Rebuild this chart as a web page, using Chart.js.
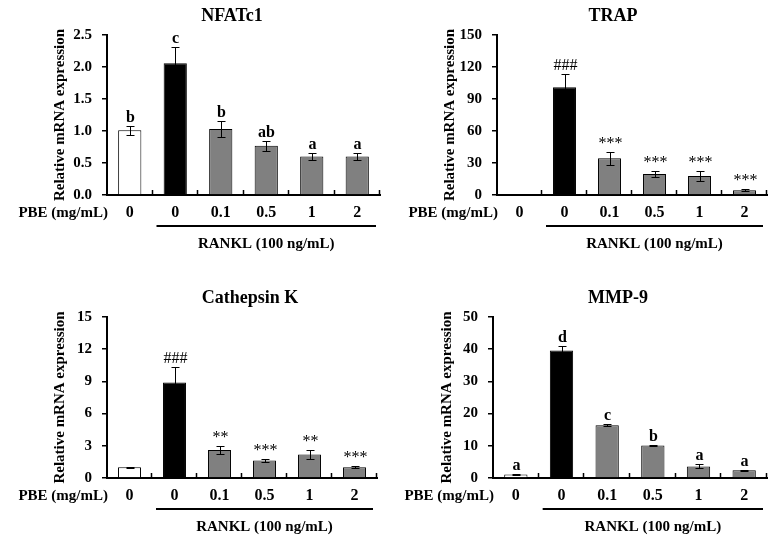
<!DOCTYPE html>
<html>
<head>
<meta charset="utf-8">
<script src="https://cdn.jsdelivr.net/npm/chart.js@4"></script>
<style>
  body{margin:0;background:#fff;}
  #wrap{position:relative;width:776px;height:543px;background:#fff;}
  canvas{position:absolute;}
</style>
</head>
<body>
<div id="wrap">
  <canvas id="c1" width="388" height="271" style="left:0;top:0"></canvas>
  <canvas id="c2" width="388" height="271" style="left:388px;top:0"></canvas>
  <canvas id="c3" width="388" height="272" style="left:0;top:271px"></canvas>
  <canvas id="c4" width="388" height="272" style="left:388px;top:271px"></canvas>
</div>
<script>
// --- dados ---
const doses = ['0','0','0.1','0.5','1','2'];
const barColors = ['#ffffff','#000000','#808080','#808080','#808080','#808080'];

const nfatc1Mean = [1.01, 2.06, 1.03, 0.77, 0.60, 0.60];
const nfatc1Err  = [0.07, 0.26, 0.12, 0.08, 0.06, 0.06];
const nfatc1Marks = ['b','c','b','ab','a','a'];

const trapMean = [0.9, 101, 34.4, 19.7, 17.8, 4.4];
const trapErr  = [0.2, 12, 6.3, 3.2, 4.4, 0.9];
const trapMarks = ['','###','***','***','***','***'];

const ctskMean = [1.0, 8.9, 2.6, 1.64, 2.2, 0.99];
const ctskErr  = [0.05, 1.48, 0.37, 0.15, 0.40, 0.10];
const ctskMarks = ['','###','**','***','**','***'];

const mmp9Mean = [1.1, 39.6, 16.4, 10.1, 3.6, 2.4];
const mmp9Err  = [0.1, 1.5, 0.3, 0.1, 0.6, 0.1];
const mmp9Marks = ['a','d','c','b','a','a'];

const serif = "'Liberation Serif', 'Times New Roman', serif";
Chart.defaults.font.family = serif;
Chart.defaults.color = '#000';

// desenha barras de erro, letras, eixo x e textos extras
const extras = {
  id:'extras',
  afterDatasetsDraw(chart, args, p){
    const ctx = chart.ctx, x = chart.scales.x, y = chart.scales.y;
    ctx.save();
    ctx.strokeStyle = '#000'; ctx.lineWidth = 1;
    p.mean.forEach((v,i)=>{
      const cx = Math.round(x.getPixelForValue(i)) + 0.5;
      const hi = Math.round(y.getPixelForValue(v + p.err[i])) + 0.5;
      const lo = Math.round(y.getPixelForValue(Math.max(0, v - p.err[i]))) + 0.5;
      ctx.beginPath();
      ctx.moveTo(cx, hi); ctx.lineTo(cx, lo);
      ctx.moveTo(cx-4, hi); ctx.lineTo(cx+4, hi);
      ctx.moveTo(cx-4, lo); ctx.lineTo(cx+4, lo);
      ctx.stroke();
      const m = p.marks[i];
      if(m){
        ctx.fillStyle = '#000';
        ctx.textAlign = 'center'; ctx.textBaseline = 'alphabetic';
        ctx.font = (/^[a-z]+$/.test(m) ? 'bold ' : '') + '16px ' + serif;
        ctx.fillText(m, cx, hi - 5);
      }
    });
    ctx.restore();
  },
  afterDraw(chart, args, p){
    const ctx = chart.ctx, x = chart.scales.x, a = chart.chartArea;
    const n = doses.length, w = (a.right - a.left) / n;
    ctx.save();
    ctx.strokeStyle = '#000'; ctx.fillStyle = '#000';
    // marcas do eixo x (para dentro)
    ctx.lineWidth = 1.5;
    ctx.beginPath();
    for(let i=1;i<=n;i++){
      const bx = Math.round(a.left + i*w) - 0.5;
      ctx.moveTo(bx, a.bottom); ctx.lineTo(bx, a.bottom - 5);
    }
    ctx.stroke();
    // rótulos das doses
    ctx.font = 'bold 16px ' + serif;
    ctx.textAlign = 'center'; ctx.textBaseline = 'middle';
    doses.forEach((d,i)=>ctx.fillText(d, x.getPixelForValue(i), a.bottom + 18));
    ctx.textAlign = 'right';
    ctx.font = 'bold 15px ' + serif;
    ctx.fillText('PBE (mg/mL)', a.left + 1, a.bottom + 18);
    // linha RANKL
    const x1 = a.left + w + 4, x2 = a.right - 4;
    ctx.lineWidth = 2;
    ctx.beginPath(); ctx.moveTo(x1, a.bottom + 31); ctx.lineTo(x2, a.bottom + 31); ctx.stroke();
    ctx.textAlign = 'center';
    ctx.fillText('RANKL (100 ng/mL)', (x1 + x2) / 2, a.bottom + 49);
    // título
    ctx.font = 'bold 18px ' + serif;
    ctx.fillText(p.title, p.lay.titleX, p.lay.titleY);
    // título do eixo y
    ctx.font = 'bold 15px ' + serif;
    ctx.translate(p.lay.yTitleX, (a.top + a.bottom) / 2);
    ctx.rotate(-Math.PI/2);
    ctx.fillText('Relative mRNA expression', 0, 0);
    ctx.restore();
  }
};

function makePanel(id, title, mean, err, marks, yMax, yStep, dec, lay){
  const el = document.getElementById(id);
  return new Chart(el.getContext('2d'), {
    type:'bar',
    data:{
      labels: doses.map((d,i)=>d + '_' + i),
      datasets:[{data:mean, backgroundColor:barColors, borderColor:'#000', borderWidth:1,
        categoryPercentage:1, barPercentage:0.51}]
    },
    options:{
      responsive:false, animation:false,
      layout:{padding:{left:0, top:lay.top, right:el.width - lay.right, bottom:0}},
      plugins:{legend:{display:false}, tooltip:{enabled:false},
        extras:{title, mean, err, marks, lay}},
      scales:{
        x:{
          ticks:{display:false},
          grid:{display:false, drawTicks:false},
          border:{display:true, color:'#000', width:2},
          afterFit:s=>{s.height = el.height - lay.bottom;}
        },
        y:{
          min:0, max:yMax,
          ticks:{stepSize:yStep, padding:10, font:{size:15, weight:'bold'}, callback:v=>Number(v).toFixed(dec)},
          grid:{drawOnChartArea:false, drawTicks:true, tickLength:5, color:'#000', lineWidth:1.5},
          border:{display:true, color:'#000', width:2},
          afterFit:s=>{s.width = lay.left;}
        }
      }
    },
    plugins:[extras]
  });
}

makePanel('c1','NFATc1', nfatc1Mean, nfatc1Err, nfatc1Marks, 2.5, 0.5, 1,
  {left:107, right:380, top:35, bottom:195, titleX:232, titleY:16, yTitleX:60});
makePanel('c2','TRAP', trapMean, trapErr, trapMarks, 150, 30, 0,
  {left:109, right:379, top:35, bottom:195, titleX:225, titleY:16, yTitleX:62});
makePanel('c3','Cathepsin K', ctskMean, ctskErr, ctskMarks, 15, 3, 0,
  {left:107, right:377, top:46, bottom:207, titleX:250, titleY:27, yTitleX:60});
makePanel('c4','MMP-9', mmp9Mean, mmp9Err, mmp9Marks, 50, 10, 0,
  {left:105, right:379, top:46, bottom:207, titleX:230, titleY:27, yTitleX:59});
</script>
</body>
</html>
